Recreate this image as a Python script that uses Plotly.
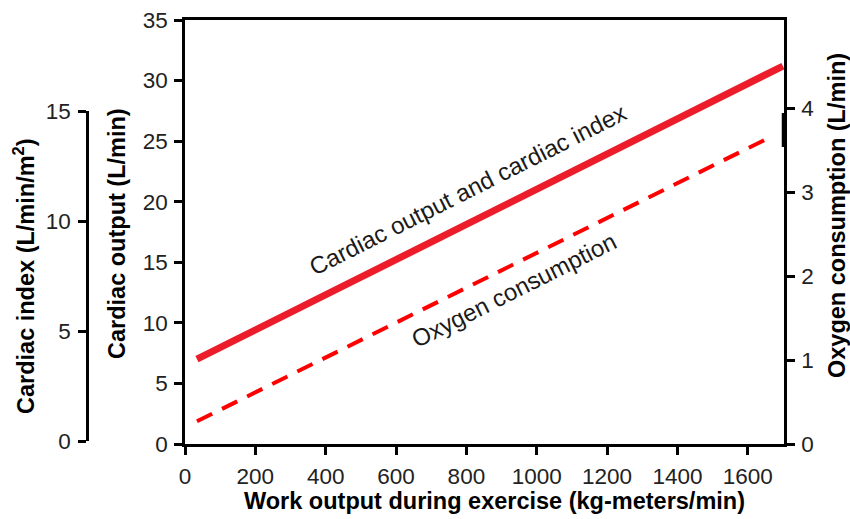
import plotly.graph_objects as go

# ---- data ----
work_cardiac = [34, 1700]          # kg-meters/min
cardiac_output = [7.0, 31.2]       # L/min
work_oxygen = [34, 1672]           # kg-meters/min
oxygen_consumption = [0.27, 3.67]  # L/min

x_ticks = [0, 200, 400, 600, 800, 1000, 1200, 1400, 1600]
co_ticks = [0, 5, 10, 15, 20, 25, 30, 35]
ci_ticks = [0, 5, 10, 15]
o2_ticks = [0, 1, 2, 3, 4]

W, H = 850, 519
L, R, T, B = 185, 784, 20, 444   # plot area in pixels
ph = B - T

def px(x):
    return x / W

def py(y):
    return (B - y) / ph

FONT = "Liberation Sans, Arial, Helvetica, sans-serif"
TICKC = "#222222"

fig = go.Figure()
fig.add_trace(go.Scatter(x=work_cardiac, y=cardiac_output, mode="lines",
                         line=dict(color="#ec1c2a", width=7),
                         showlegend=False, hoverinfo="skip"))
fig.add_trace(go.Scatter(x=work_oxygen, y=oxygen_consumption, mode="lines",
                         yaxis="y4",
                         line=dict(color="#ff0000", width=4, dash="17px,11px"),
                         showlegend=False, hoverinfo="skip"))
# carrier trace so the cardiac index axis is drawn
fig.add_trace(go.Scatter(x=[], y=[], yaxis="y3", showlegend=False,
                         hoverinfo="skip"))

axis_common = dict(showline=True, linecolor="black", linewidth=2.5,
                   ticks="outside", ticklen=8, tickwidth=2.5, tickcolor="black",
                   showgrid=False, zeroline=False,
                   tickfont=dict(family=FONT, size=22.5, color=TICKC))

fig.update_layout(
    width=W, height=H,
    margin=dict(l=0, r=0, t=T, b=H - B),
    plot_bgcolor="rgba(0,0,0,0)", paper_bgcolor="white",
    xaxis=dict(domain=[L / W, R / W], range=[0, 1703],
               tickvals=x_ticks, mirror=True, automargin=False,
               ticklabelstandoff=2, **axis_common),
    yaxis=dict(range=[0, 35], tickvals=co_ticks, automargin=False,
               ticklabelstandoff=2, **axis_common),
    yaxis3=dict(range=[0, 15], tickvals=ci_ticks, anchor="free",
                position=87 / W, side="left",
                domain=[3 / ph, 333 / ph], automargin=False,
                ticklabelstandoff=3, **axis_common),
    yaxis4=dict(range=[0, ph / 84.0], tickvals=o2_ticks, overlaying="y",
                side="right", anchor="x", automargin=False,
                ticklabelstandoff=2, **axis_common),
)

# thicker segment on the right axis line, as in the reference
fig.add_shape(type="line", xref="paper", yref="paper",
              x0=px(R), x1=px(R),
              y0=py(147), y1=py(113),
              line=dict(color="black", width=4.5))

title_font = dict(family=FONT, size=23.5, color="black")
ann = [
    dict(text="<b>Work output during exercise (kg-meters/min)</b>",
         x=px(494), y=py(501), textangle=0, font=title_font),
    dict(text="<b>Cardiac output (L/min)</b>",
         x=px(117), y=py(233), textangle=-90, font=title_font),
    dict(text="<b>Cardiac index (L/min/m<sup>2</sup>)</b>",
         x=px(24), y=py(276), textangle=-90, font=title_font),
    dict(text="<b>Oxygen consumption (L/min)</b>",
         x=px(837), y=py(216), textangle=-90, font=title_font),
    dict(text="Cardiac output and cardiac index",
         x=px(468), y=py(189), textangle=-26.7,
         font=dict(family=FONT, size=24, color="#1a1a1a")),
    dict(text="Oxygen consumption",
         x=px(513), y=py(290), textangle=-26.7,
         font=dict(family=FONT, size=24, color="#1a1a1a")),
]
for a in ann:
    fig.add_annotation(xref="paper", yref="paper", showarrow=False,
                       xanchor="center", yanchor="middle", **a)

fig.write_html("out.html",
               config={"displayModeBar": False},
               post_script="document.body.style.margin='0px';"
                           "document.body.style.overflow='hidden';")
